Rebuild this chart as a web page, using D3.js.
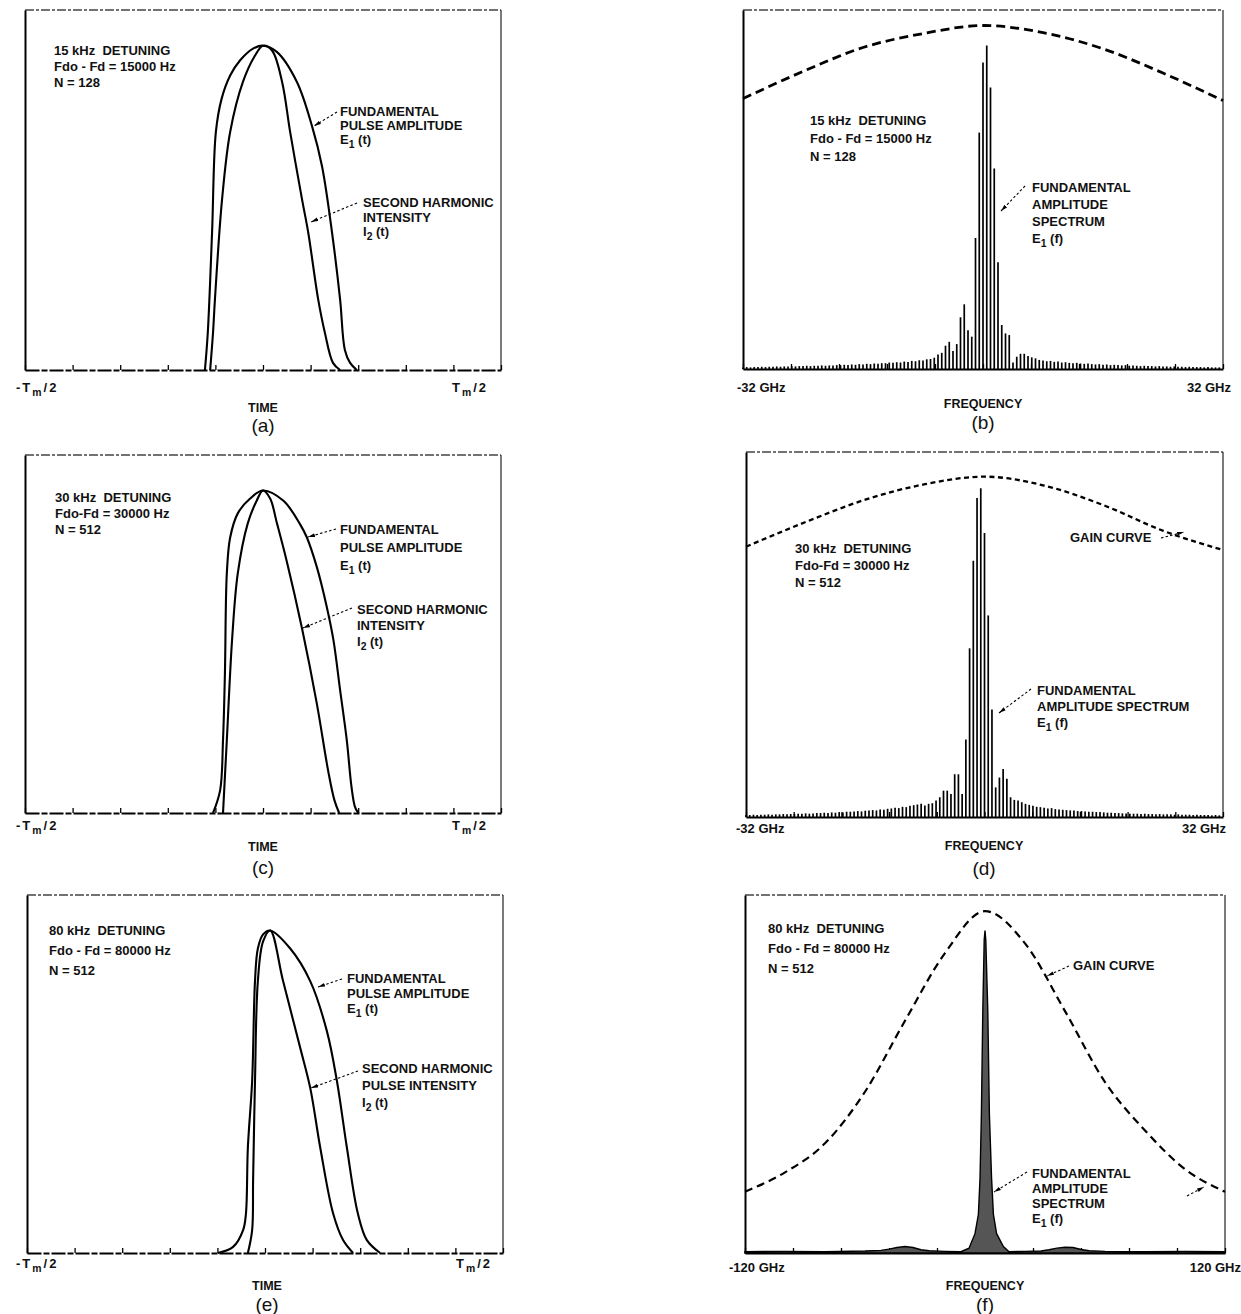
<!DOCTYPE html>
<html><head><meta charset="utf-8">
<script src="https://cdn.jsdelivr.net/npm/d3@7"></script>
<style>
body{margin:0;background:#fff;}
svg{display:block;background:#fff;}
text{font-family:"Liberation Sans",Arial,sans-serif;fill:#111;white-space:pre;}
</style></head><body>
<svg id="chart" width="1241" height="1314"></svg>
<script>
// ================= DATA =================
// Time panels: time in units of Tm (-Tm/2 .. Tm/2), amplitude normalised to the pulse peak
const timeDomain = [-0.5, 0.5];
const timeTickValues = [-0.5,-0.4,-0.3,-0.2,-0.1,0,0.1,0.2,0.3,0.4,0.5];
const timeTickLabels = ["-T_m/2", "T_m/2"];

// (a) 15 kHz detuning
const aFundT = [-0.122,-0.116,-0.107,-0.099,-0.087,-0.069,-0.048,-0.021,0,0.029,0.071,0.103,0.124,0.145,0.162,0.172,0.183,0.197];
const aFundA = [0,0.115,0.424,0.734,0.836,0.908,0.955,0.991,1,0.981,0.889,0.752,0.628,0.424,0.217,0.062,0.022,0];
const aHarmT = [-0.111,-0.105,-0.101,-0.086,-0.069,-0.042,-0.017,0,0.019,0.040,0.057,0.082,0.095,0.116,0.130,0.147,0.162];
const aHarmA = [0,0.115,0.217,0.526,0.734,0.889,0.969,1,0.985,0.889,0.734,0.526,0.424,0.217,0.115,0.022,0];
// (c) 30 kHz detuning
const cFundT = [-0.105,-0.090,-0.084,-0.080,-0.076,-0.069,-0.053,-0.027,0,0.043,0.078,0.092,0.113,0.134,0.148,0.162,0.176,0.186,0.193,0.200];
const cFundA = [0,0.071,0.226,0.433,0.743,0.854,0.929,0.975,1,0.968,0.895,0.855,0.763,0.639,0.536,0.381,0.226,0.080,0.020,0];
const cHarmT = [-0.084,-0.076,-0.065,-0.053,-0.032,-0.013,0,0.015,0.029,0.050,0.082,0.113,0.137,0.150,0.160];
const cHarmA = [0,0.226,0.536,0.743,0.898,0.969,1,0.975,0.900,0.780,0.572,0.340,0.130,0.040,0];
// (e) 80 kHz detuning
const eFundT = [-0.099,-0.067,-0.046,-0.040,-0.036,-0.027,-0.021,-0.015,-0.004,0.011,0.053,0.095,0.130,0.151,0.172,0.195,0.214,0.242];
const eFundA = [0,0.019,0.071,0.123,0.327,0.534,0.843,0.944,0.988,1,0.944,0.843,0.688,0.534,0.327,0.123,0.040,0];
const eHarmT = [-0.036,-0.027,-0.025,-0.021,-0.015,-0.004,0.011,0.038,0.074,0.095,0.116,0.143,0.164,0.185];
const eHarmA = [0,0.071,0.225,0.534,0.843,0.966,1,0.843,0.636,0.512,0.327,0.123,0.040,0];

// Spectrum panels: frequency in GHz, amplitude normalised to spectral peak
const narrowDomain = [-32, 32];
const narrowTickValues = [-32,-25.6,-19.2,-12.8,-6.4,0,6.4,12.8,19.2,25.6,32];
const narrowTickLabels = ["-32 GHz", "32 GHz"];
const wideDomain = [-120, 120];
const wideTickValues = [-120,-96,-72,-48,-24,0,24,48,72,96,120];
const wideTickLabels = ["-120 GHz", "120 GHz"];
const binStart = -32, binStep = 0.5; // 128 spectral lines, 0.5 GHz apart

// (b) amplitude of each spectral line
const bSpec = [
0.005,0.006,0.005,0.006,0.006,0.007,0.006,0.007,0.007,0.008,
0.007,0.008,0.008,0.009,0.008,0.009,0.009,0.010,0.009,0.010,
0.010,0.011,0.010,0.011,0.011,0.012,0.012,0.013,0.012,0.014,
0.013,0.015,0.014,0.016,0.015,0.017,0.016,0.018,0.018,0.020,
0.019,0.021,0.020,0.023,0.022,0.025,0.024,0.027,0.026,0.030,0.031,
0.035,0.045,0.050,0.072,0.084,0.056,0.077,0.160,0.200,0.120,0.100,0.405,0.731,0.948,1.000,
0.870,0.620,0.330,0.136,0.110,0.105,0.020,0.038,0.047,0.047,0.040,0.036,0.033,0.028,
0.026,0.024,0.025,0.022,0.023,0.020,0.021,0.019,0.018,0.019,
0.017,0.016,0.017,0.015,0.014,0.015,0.013,0.014,0.012,0.013,
0.012,0.011,0.012,0.010,0.011,0.010,0.009,0.010,0.009,0.009,
0.008,0.009,0.008,0.008,0.007,0.008,0.007,0.007,0.006,0.007,
0.006,0.006,0.006,0.005,0.006,0.005,0.005,0.005];
// (d)
const dSpec = [
0.006,0.006,0.007,0.006,0.007,0.007,0.008,0.007,0.008,0.008,
0.009,0.008,0.009,0.009,0.010,0.010,0.011,0.010,0.011,0.012,
0.012,0.013,0.012,0.014,0.013,0.015,0.014,0.016,0.016,0.017,
0.018,0.017,0.019,0.020,0.021,0.020,0.023,0.022,0.025,0.026,
0.028,0.027,0.031,0.030,0.034,0.036,0.038,0.040,
0.035,0.040,0.042,0.050,0.060,0.080,0.080,0.070,0.130,0.130,0.070,0.236,0.513,0.779,0.970,1.000,
0.864,0.613,0.327,0.090,0.120,0.146,0.116,0.060,0.052,0.050,0.045,0.040,0.037,0.034,0.031,0.030,
0.028,0.026,0.027,0.024,0.023,0.022,0.021,0.020,0.020,0.018,
0.018,0.017,0.016,0.016,0.015,0.015,0.014,0.013,0.013,0.012,
0.012,0.011,0.011,0.010,0.010,0.010,0.009,0.010,0.009,0.009,
0.008,0.009,0.008,0.008,0.008,0.007,0.008,0.007,0.007,0.007,
0.006,0.007,0.006,0.006,0.006,0.005,0.006,0.005];
// (f) dense spectrum envelope
const fSpecF = [-120,-100,-80,-60,-52,-48,-44,-40,-36,-32,-28,-20,-12,-8,-5,-3.3,-2.5,-1.8,-1.1,-0.4,0,0.4,1.4,2.2,3.3,4.2,5.8,9.2,12,20,28,32,36,40,44,48,52,60,80,100,120];
const fSpecA = [0.004,0.005,0.004,0.006,0.008,0.012,0.017,0.020,0.017,0.010,0.007,0.005,0.004,0.015,0.06,0.12,0.23,0.43,0.75,0.97,1.0,0.97,0.75,0.43,0.23,0.12,0.06,0.02,0.004,0.005,0.006,0.010,0.015,0.018,0.017,0.011,0.007,0.005,0.004,0.005,0.004];

// Gain curves
const bGainF = [-32,-24,-16,-8,0,8,16,24,32];
const bGainA = [0.836,0.920,0.994,1.037,1.062,1.040,0.990,0.915,0.830];
const dGainF = [-32,-24,-16,-8,0,8,16,24,32];
const dGainA = [0.822,0.897,0.965,1.012,1.035,1.008,0.948,0.870,0.812];
const fGainF = [-120,-100,-80,-60,-40,-20,0,20,40,60,80,100,120];
const fGainA = [0.19,0.25,0.34,0.50,0.72,0.93,1.06,0.96,0.75,0.53,0.38,0.26,0.19];

// Texts
const infoA = ["15 kHz  DETUNING", "Fdo - Fd = 15000 Hz", "N = 128"];
const infoC = ["30 kHz  DETUNING", "Fdo-Fd = 30000 Hz", "N = 512"];
const infoE = ["80 kHz  DETUNING", "Fdo - Fd = 80000 Hz", "N = 512"];
const fundTimeLabel = ["FUNDAMENTAL", "PULSE AMPLITUDE", "E_1 (t)"];
const harmLabelAC = ["SECOND HARMONIC", "INTENSITY", "I_2 (t)"];
const harmLabelE = ["SECOND HARMONIC", "PULSE INTENSITY", "I_2 (t)"];
const fundSpecLabel4 = ["FUNDAMENTAL", "AMPLITUDE", "SPECTRUM", "E_1 (f)"];
const fundSpecLabel3 = ["FUNDAMENTAL", "AMPLITUDE SPECTRUM", "E_1 (f)"];
const gainLabel = "GAIN CURVE";
const timeTitle = "TIME", freqTitle = "FREQUENCY";
const captions = ["(a)", "(b)", "(c)", "(d)", "(e)", "(f)"];

// ================= DRAWING =================
const svg = d3.select("#chart");
const FS = 13;
const AMAX = 1.11;

svg.append("defs").append("marker").attr("id","arr")
  .attr("viewBox","0 0 10 6").attr("refX",10).attr("refY",3)
  .attr("markerWidth",7).attr("markerHeight",4.5).attr("markerUnits","userSpaceOnUse")
  .attr("orient","auto")
  .append("path").attr("d","M0,0.3 L10,3 L0,5.7 Z").attr("fill","#000");

function addText(x, y, str, opt={}) {
  const fs = opt.fs || FS;
  const t = svg.append("text").attr("x", x).attr("y", y)
    .attr("font-size", fs).attr("text-anchor", opt.anchor || "start")
    .attr("font-weight", opt.weight || "bold");
  if (opt.family) t.attr("font-family", opt.family);
  if (opt.ls) t.attr("letter-spacing", opt.ls);
  const parts = str.split(/(_.)/).filter(s => s.length);
  let sub = false;
  parts.forEach(p => {
    if (p[0] === "_") { t.append("tspan").attr("dy", fs*0.3).attr("font-size", fs*0.8).text(p.slice(1)); sub = true; }
    else { const ts = t.append("tspan").text(p); if (sub) { ts.attr("dy", -fs*0.3); sub = false; } }
  });
  return t;
}
function addLines(x, y0, lines, dy) { lines.forEach((s,i)=>addText(x, y0 + i*dy, s)); }
function leader(x1,y1,x2,y2){
  svg.append("line").attr("x1",x1).attr("y1",y1).attr("x2",x2).attr("y2",y2)
    .attr("stroke","#000").attr("stroke-width",1.1).attr("stroke-dasharray","2.5,2.2")
    .attr("marker-end","url(#arr)");
}

function frame(p, xDomain, ticks, dashedBase) {
  const x = d3.scaleLinear().domain(xDomain).range([p.L, p.L + p.W]);
  const y = d3.scaleLinear().domain([0, AMAX]).range([p.B, p.T]);
  const g = svg.append("g");
  g.append("line").attr("x1",p.L).attr("x2",p.L+p.W).attr("y1",p.T).attr("y2",p.T)
    .attr("stroke","#444").attr("stroke-width",1.3).attr("stroke-dasharray","9,2,3,2");
  g.append("line").attr("x1",p.L+p.W).attr("x2",p.L+p.W).attr("y1",p.T).attr("y2",p.B)
    .attr("stroke","#222").attr("stroke-width",1.2);
  const ax = g.append("g").attr("transform",`translate(0,${p.B})`)
    .call(d3.axisBottom(x).tickValues(ticks).tickSizeInner(-5).tickSizeOuter(0).tickFormat(""));
  ax.select(".domain").attr("stroke","#000").attr("stroke-width",1.8)
    .attr("stroke-dasharray", dashedBase ? "14,2,6,2" : null);
  ax.selectAll(".tick line").attr("stroke","#000").attr("stroke-width",1.3);
  const ay = g.append("g").attr("transform",`translate(${p.L},0)`)
    .call(d3.axisLeft(y).tickValues([]).tickSizeOuter(0));
  ay.select(".domain").attr("stroke","#000").attr("stroke-width",2);
  return {x, y};
}

function timeCurve(s, T, A) {
  const line = d3.line().x(d=>s.x(d[0])).y(d=>s.y(d[1])).curve(d3.curveCatmullRom.alpha(0.5));
  svg.append("path").attr("d", line(d3.zip(T, A))).attr("fill","none")
    .attr("stroke","#000").attr("stroke-width",2.1).attr("stroke-linejoin","round");
}
function gainCurve(s, F, A, dash, w) {
  const line = d3.line().x(d=>s.x(d[0])).y(d=>s.y(d[1])).curve(d3.curveMonotoneX);
  svg.append("path").attr("d", line(d3.zip(F, A))).attr("fill","none")
    .attr("stroke","#000").attr("stroke-width",w).attr("stroke-dasharray",dash);
}
function bars(s, spec) {
  svg.append("g").selectAll("line").data(spec).join("line")
    .attr("x1",(d,i)=>s.x(binStart + i*binStep)).attr("x2",(d,i)=>s.x(binStart + i*binStep))
    .attr("y1",s.y(0)).attr("y2",d=>s.y(d))
    .attr("stroke","#000").attr("stroke-width",1.7);
}
function axisTexts(p, labels, title, cap, lx, rx, dyTick, dyTitle, dyCap, cx, ls) {
  addText(lx, p.B + dyTick, labels[0], {fs:13, ls:ls});
  addText(rx, p.B + dyTick, labels[1], {fs:13, anchor:"end", ls:ls});
  addText(cx, p.B + dyTitle, title, {fs:12.5, anchor:"middle"});
  addText(cx, p.B + dyCap, cap, {fs:19, anchor:"middle", weight:"normal", family:"'Liberation Serif','Times New Roman',serif"});
}

// ---- layout ----
const P = {
  a:{L:25, T:10, W:476, B:370},
  c:{L:25, T:455, W:476, B:813},
  e:{L:27, T:895, W:476, B:1253},
  b:{L:743, T:10, W:480, B:369},
  d:{L:746, T:452, W:477, B:817},
  f:{L:745, T:895, W:480, B:1253}
};

// (a)
let s = frame(P.a, timeDomain, timeTickValues, true);
timeCurve(s, aFundT, aFundA); timeCurve(s, aHarmT, aHarmA);
addLines(54, 55, infoA, 16);
addLines(340, 116, fundTimeLabel, 14);
addLines(363, 207, harmLabelAC, 14.5);
leader(337,112,314,126); leader(357,203,311,222);
axisTexts(P.a, timeTickLabels, timeTitle, captions[0], 16, 488, 22, 42, 62, 263, 2);

// (c)
s = frame(P.c, timeDomain, timeTickValues, true);
timeCurve(s, cFundT, cFundA); timeCurve(s, cHarmT, cHarmA);
addLines(55, 502, infoC, 16);
addLines(340, 534, fundTimeLabel, 18);
addLines(357, 614, harmLabelAC, 16);
leader(336,529,308,537); leader(352,608,303,628);
axisTexts(P.c, timeTickLabels, timeTitle, captions[2], 16, 488, 17, 38, 61, 263, 2);

// (e)
s = frame(P.e, timeDomain, timeTickValues, true);
timeCurve(s, eFundT, eFundA); timeCurve(s, eHarmT, eHarmA);
addLines(49, 935, infoE, 20);
addLines(347, 983, fundTimeLabel, 15);
addLines(362, 1073, harmLabelE, 17);
leader(342,979,318,987); leader(358,1071,311,1088);
axisTexts(P.e, timeTickLabels, timeTitle, captions[4], 16, 492, 15, 37, 58, 267, 2);

// (b)
s = frame(P.b, narrowDomain, narrowTickValues, false);
gainCurve(s, bGainF, bGainA, "9,5", 2.8);
bars(s, bSpec);
addLines(810, 125, infoA, 18);
addLines(1032, 192, fundSpecLabel4, 17);
leader(1025,186,1001,211);
axisTexts(P.b, narrowTickLabels, freqTitle, captions[1], 737, 1231, 23, 39, 60, 983, 0);

// (d)
s = frame(P.d, narrowDomain, narrowTickValues, false);
gainCurve(s, dGainF, dGainA, "5,3.5", 2.3);
bars(s, dSpec);
addLines(795, 553, infoC, 17);
addText(1070, 542, gainLabel);
leader(1161,538,1184,532);
addLines(1037, 695, fundSpecLabel3, 16);
leader(1031,689,999,713);
axisTexts(P.d, narrowTickLabels, freqTitle, captions[3], 736, 1226, 16, 33, 58, 984, 0);

// (f)
s = frame(P.f, wideDomain, wideTickValues, false);
gainCurve(s, fGainF, fGainA, "8,5", 2.2);
const area = d3.area().x(d=>s.x(d[0])).y0(s.y(0)).y1(d=>s.y(d[1])).curve(d3.curveLinear);
svg.append("path").attr("d", area(d3.zip(fSpecF, fSpecA))).attr("fill","#555")
  .attr("stroke","#000").attr("stroke-width",1.4);
addLines(768, 933, infoE, 20);
addText(1073, 970, gainLabel);
leader(1069,966,1047,976);
addLines(1032, 1178, fundSpecLabel4, 15);
leader(1027,1172,994,1192);
leader(1187,1196,1204,1187);
axisTexts(P.f, wideTickLabels, freqTitle, captions[5], 729, 1241, 19, 37, 58, 985, 0);
</script>
</body></html>
